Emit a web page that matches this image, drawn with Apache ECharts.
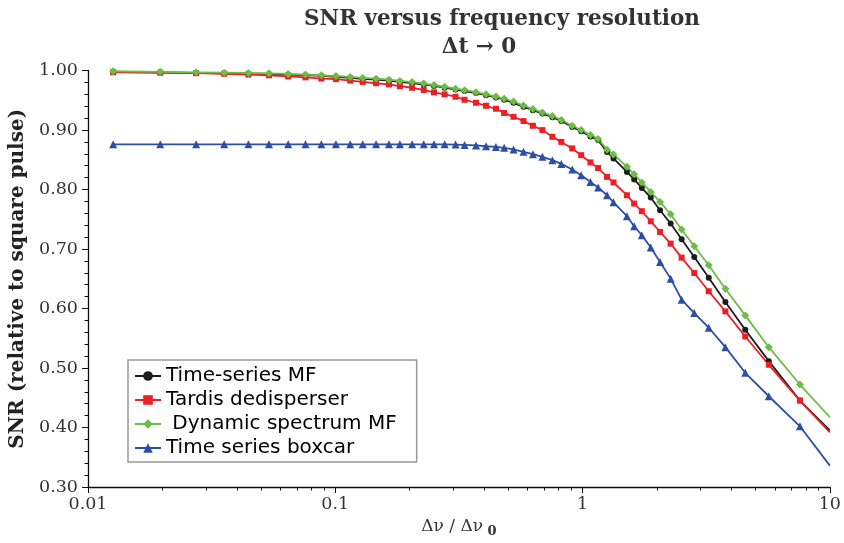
<!DOCTYPE html>
<html>
<head>
<meta charset="utf-8">
<script src="https://cdn.jsdelivr.net/npm/echarts@6/dist/echarts.min.js"></script>
<style>
html,body{margin:0;padding:0;background:#fff;}
#chart{width:844px;height:543px;}
</style>
</head>
<body>
<div id="chart"></div>
<script>
// Δν/Δν0 sample positions (shared by all series); last entry is the axis edge where lines leave the plot
const xs = [0.01264, 0.01960, 0.02736, 0.03555, 0.04453, 0.05393, 0.06448, 0.07576, 0.08784, 0.1006,
  0.1149, 0.1291, 0.1462, 0.1649, 0.1825, 0.2045, 0.2279, 0.2507, 0.2768, 0.3064,
  0.3332, 0.3709, 0.4070, 0.4464, 0.4817, 0.5258, 0.5769, 0.6299, 0.6879, 0.7546,
  0.8203, 0.9083, 0.9872, 1.076, 1.156, 1.256, 1.334, 1.511, 1.617, 1.736,
  1.887, 2.057, 2.271, 2.515, 2.829, 3.238, 3.780, 4.548, 5.664, 7.568, 10];

const timeSeriesMF = [0.9977, 0.9967, 0.9960, 0.9954, 0.9948, 0.9942, 0.9933, 0.9922, 0.9910, 0.9892,
  0.9877, 0.9861, 0.9847, 0.9830, 0.9810, 0.9790, 0.9765, 0.9741, 0.9712, 0.9680,
  0.9655, 0.9621, 0.9585, 0.9548, 0.9510, 0.9457, 0.9390, 0.9332, 0.9276, 0.9214,
  0.9150, 0.9051, 0.8979, 0.8890, 0.8830, 0.8630, 0.8522, 0.8296, 0.8169, 0.8027,
  0.7865, 0.7652, 0.7428, 0.7163, 0.6865, 0.6515, 0.6108, 0.5643, 0.5115, 0.4453, 0.3950];

const tardis = [0.9970, 0.9962, 0.9955, 0.9945, 0.9932, 0.9920, 0.9900, 0.9885, 0.9865, 0.9855,
  0.9830, 0.9808, 0.9786, 0.9767, 0.9736, 0.9710, 0.9672, 0.9633, 0.9599, 0.9559,
  0.9508, 0.9458, 0.9407, 0.9357, 0.9285, 0.9222, 0.9150, 0.9071, 0.8998, 0.8886,
  0.8800, 0.8690, 0.8577, 0.8455, 0.8360, 0.8212, 0.8118, 0.7904, 0.7764, 0.7635,
  0.7466, 0.7287, 0.7090, 0.6855, 0.6596, 0.6290, 0.5951, 0.5530, 0.5054, 0.4453, 0.3920];

const dynamicMF = [0.9987, 0.9977, 0.9970, 0.9964, 0.9958, 0.9952, 0.9943, 0.9932, 0.9920, 0.9907,
  0.9892, 0.9876, 0.9862, 0.9845, 0.9825, 0.9805, 0.9780, 0.9756, 0.9727, 0.9695,
  0.9670, 0.9636, 0.9600, 0.9563, 0.9525, 0.9477, 0.9410, 0.9352, 0.9296, 0.9234,
  0.9170, 0.9071, 0.8999, 0.8914, 0.8850, 0.8670, 0.8590, 0.8381, 0.8258, 0.8118,
  0.7960, 0.7792, 0.7584, 0.7327, 0.7046, 0.6726, 0.6333, 0.5884, 0.5350, 0.4722, 0.4172];

const boxcar = [0.876, 0.876, 0.876, 0.876, 0.876, 0.876, 0.876, 0.876, 0.876, 0.876,
  0.876, 0.876, 0.876, 0.876, 0.876, 0.876, 0.876, 0.876, 0.876, 0.8755,
  0.8750, 0.8740, 0.8727, 0.8715, 0.8700, 0.8673, 0.8633, 0.8594, 0.8549, 0.8493,
  0.8430, 0.8337, 0.8241, 0.8128, 0.8035, 0.7904, 0.7785, 0.7551, 0.7382, 0.7231,
  0.7024, 0.6781, 0.6502, 0.6148, 0.5923, 0.5677, 0.5350, 0.4919, 0.4525, 0.4020, 0.3360];

const xTickLabels = {0.01: '0.01', 0.1: '0.1', 1: '1', 10: '10'};
const seriesNames = ['Time-series MF', 'Tardis dedisperser', ' Dynamic spectrum MF', 'Time series boxcar'];

function pairs(ys) {
  return xs.map((x, i) => {
    const item = { value: [x, ys[i]] };
    if (i === xs.length - 1) item.symbol = 'none';
    return item;
  });
}

const serif = 'DejaVu Serif';
const chart = echarts.init(document.getElementById('chart'), null, { renderer: 'canvas' });

function mk(name, ys, color, symbol, size) {
  return {
    name: name, type: 'line', data: pairs(ys),
    symbol: symbol, symbolSize: size, showAllSymbol: true,
    lineStyle: { color: color, width: 1.8 },
    itemStyle: { color: color },
    emphasis: { disabled: true },
    animation: false, clip: true
  };
}

chart.setOption({
  animation: false,
  backgroundColor: '#fff',
  title: [
    { text: 'SNR versus frequency resolution', left: 497, top: 3, textAlign: 'center',
      textStyle: { fontFamily: serif, fontWeight: 'bold', fontSize: 21.5, color: '#333' } },
    { text: 'Δt → 0', left: 474, top: 31, textAlign: 'center',
      textStyle: { fontFamily: serif, fontWeight: 'bold', fontSize: 21.5, color: '#333' } }
  ],
  grid: { left: 88, right: 10, top: 70.5, bottom: 56, containLabel: false },
  legend: {
    orient: 'vertical', left: 128, top: 360,
    padding: [6, 20, 4, 6],
    itemGap: 4, itemWidth: 26, itemHeight: 12, itemTextGap: 7,
    backgroundColor: '#fff', borderColor: '#999', borderWidth: 1.5, borderRadius: 0,
    selectedMode: false,
    textStyle: { fontFamily: 'DejaVu Sans', fontSize: 20, color: '#000' },
    data: seriesNames
  },
  xAxis: {
    type: 'log', logBase: 10, min: 0.01, max: 10,
    name: '{a|Δν / Δν}{b| 0}', nameLocation: 'middle', nameGap: 24,
    nameTextStyle: {
      rich: {
        a: { fontFamily: serif, fontSize: 17, color: '#333' },
        b: { fontFamily: serif, fontSize: 13, fontWeight: 'bold', color: '#333', padding: [10, 0, 0, 0] }
      }
    },
    axisLine: { show: true, lineStyle: { color: '#111', width: 1.3 } },
    axisTick: { show: true, inside: false, length: 6, lineStyle: { color: '#111' } },
    minorTick: { show: true, splitNumber: 9, length: 3.5, lineStyle: { color: '#111' } },
    splitLine: { show: false },
    axisLabel: { fontFamily: serif, fontSize: 17.5, color: '#333', margin: 8,
      formatter: v => xTickLabels[+v.toPrecision(3)] || '' }
  },
  yAxis: {
    type: 'value', min: 0.3, max: 1.0, interval: 0.1,
    name: 'SNR (relative to square pulse)', nameLocation: 'middle', nameGap: 51, nameRotate: 90,
    nameTextStyle: { fontFamily: serif, fontWeight: 'bold', fontSize: 20, color: '#222' },
    axisLine: { show: true, lineStyle: { color: '#111', width: 1.3 } },
    axisTick: { show: true, inside: false, length: 6, lineStyle: { color: '#111' } },
    minorTick: { show: true, splitNumber: 5, length: 3.5, lineStyle: { color: '#111' } },
    splitLine: { show: false },
    axisLabel: { fontFamily: serif, fontSize: 17.5, color: '#333', margin: 10,
      formatter: v => v.toFixed(2) }
  },
  series: [
    mk(seriesNames[0], timeSeriesMF, '#1c1c1c', 'circle', 6),
    mk(seriesNames[1], tardis, '#ec1f24', 'rect', 6),
    mk(seriesNames[2], dynamicMF, '#6cbd45', 'diamond', 8),
    mk(seriesNames[3], boxcar, '#2c4fa3', 'triangle', 8)
  ]
});
</script>
</body>
</html>
